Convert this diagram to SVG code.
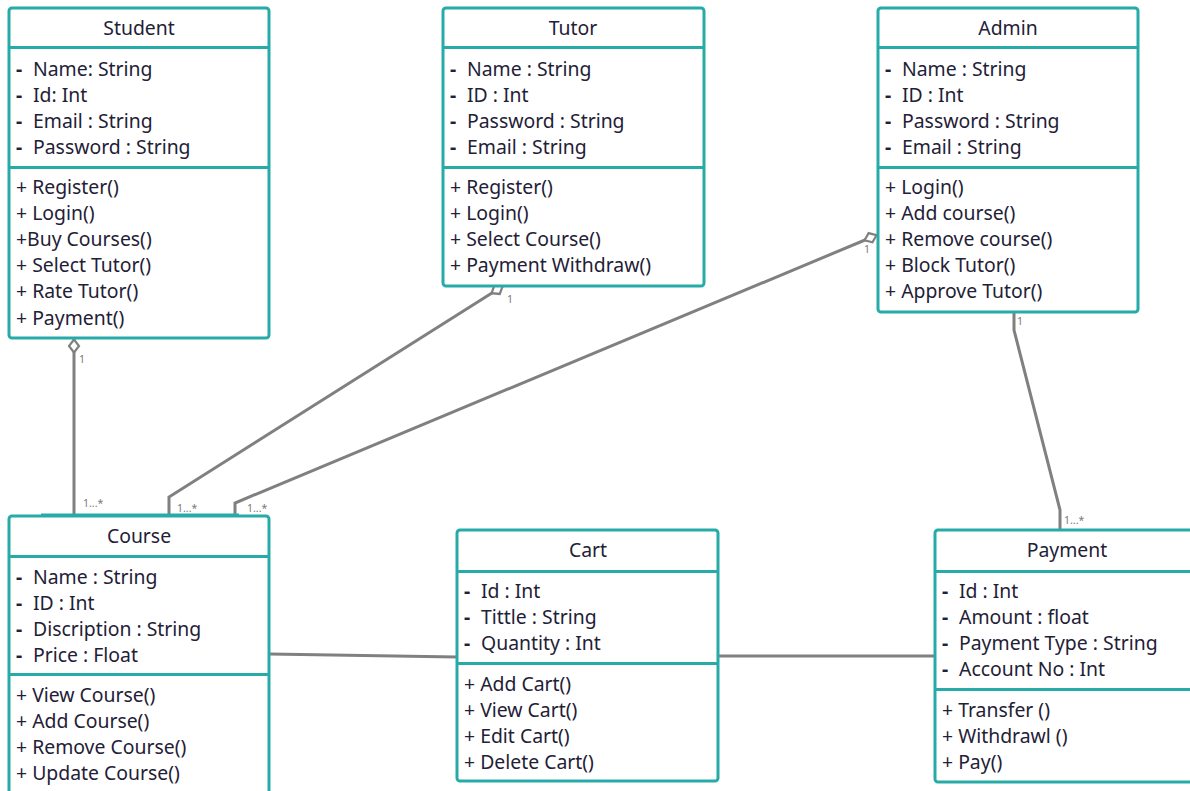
<svg xmlns="http://www.w3.org/2000/svg" width="1190" height="791" viewBox="0 0 1190 791">
<style>
.box{fill:#fff;stroke:#26aba8;stroke-width:3}
.div{stroke:#26aba8;stroke-width:3}
.t{font-family:"Noto Sans","Open Sans",sans-serif;font-size:19.4px;fill:#1f2137}
.d{font-weight:bold}
.ti{text-anchor:middle}
.c{fill:none;stroke:#808080;stroke-width:3}
.lb{font-family:"Noto Sans","DejaVu Sans",sans-serif;font-size:10.5px;fill:#7a7a7a}
</style>
<defs>
<marker id="dia" markerUnits="userSpaceOnUse" markerWidth="18" markerHeight="14" refX="15" refY="7" orient="auto" viewBox="0 0 18 14">
<path d="M1.5,7 L8,2 L14.5,7 L8,12 Z" fill="#fff" stroke="#808080" stroke-width="2.2"/>
</marker>
</defs>
<rect width="1190" height="791" fill="#fff"/>
<g id="connectors">
<path class="c" d="M74,516 L74,339" marker-end="url(#dia)"/>
<path class="c" d="M169,516 L169,497 L503,286" marker-end="url(#dia)"/>
<path class="c" d="M235,516 L235,503 L877,235" marker-end="url(#dia)"/>
<path class="c" d="M1014,312 L1014,330 L1060,510 L1060,530"/>
<path class="c" d="M269,654 L457,657"/>
<path class="c" d="M718,656 L935,656"/>
<text class="lb" x="79" y="363">1</text>
<text class="lb" x="83" y="507">1...*</text>
<text class="lb" x="177" y="512">1...*</text>
<text class="lb" x="247" y="512">1...*</text>
<text class="lb" x="507" y="303">1</text>
<text class="lb" x="864" y="253">1</text>
<text class="lb" x="1017" y="325">1</text>
<text class="lb" x="1064" y="524">1...*</text>
</g>
<g id="student">
<rect class="box" x="9" y="8" width="260" height="330" rx="3"/>
<line class="div" x1="9" y1="47.5" x2="269" y2="47.5"/>
<line class="div" x1="9" y1="167.5" x2="269" y2="167.5"/>
<text class="t ti" x="139" y="35">Student</text>
<text class="t" y="76"><tspan class="d" x="16">-</tspan><tspan x="33">Name: String</tspan></text>
<text class="t" y="102"><tspan class="d" x="16">-</tspan><tspan x="33">Id: Int</tspan></text>
<text class="t" y="128"><tspan class="d" x="16">-</tspan><tspan x="33">Email : String</tspan></text>
<text class="t" y="154"><tspan class="d" x="16">-</tspan><tspan x="33">Password : String</tspan></text>
<text class="t" x="16" y="194">+ Register()</text>
<text class="t" x="16" y="220">+ Login()</text>
<text class="t" x="16" y="246">+Buy Courses()</text>
<text class="t" x="16" y="272">+ Select Tutor()</text>
<text class="t" x="16" y="298">+ Rate Tutor()</text>
<text class="t" x="16" y="325">+ Payment()</text>
</g>
<g id="tutor">
<rect class="box" x="443" y="8" width="261" height="278" rx="3"/>
<line class="div" x1="443" y1="47.5" x2="704" y2="47.5"/>
<line class="div" x1="443" y1="167.5" x2="704" y2="167.5"/>
<text class="t ti" x="573" y="35">Tutor</text>
<text class="t" y="76"><tspan class="d" x="450">-</tspan><tspan x="467">Name : String</tspan></text>
<text class="t" y="102"><tspan class="d" x="450">-</tspan><tspan x="467">ID : Int</tspan></text>
<text class="t" y="128"><tspan class="d" x="450">-</tspan><tspan x="467">Password : String</tspan></text>
<text class="t" y="154"><tspan class="d" x="450">-</tspan><tspan x="467">Email : String</tspan></text>
<text class="t" x="450" y="194">+ Register()</text>
<text class="t" x="450" y="220">+ Login()</text>
<text class="t" x="450" y="246">+ Select Course()</text>
<text class="t" x="450" y="272">+ Payment Withdraw()</text>
</g>
<g id="admin">
<rect class="box" x="878" y="8" width="260" height="304" rx="3"/>
<line class="div" x1="878" y1="47.5" x2="1138" y2="47.5"/>
<line class="div" x1="878" y1="167.5" x2="1138" y2="167.5"/>
<text class="t ti" x="1008" y="35">Admin</text>
<text class="t" y="76"><tspan class="d" x="885">-</tspan><tspan x="902">Name : String</tspan></text>
<text class="t" y="102"><tspan class="d" x="885">-</tspan><tspan x="902">ID : Int</tspan></text>
<text class="t" y="128"><tspan class="d" x="885">-</tspan><tspan x="902">Password : String</tspan></text>
<text class="t" y="154"><tspan class="d" x="885">-</tspan><tspan x="902">Email : String</tspan></text>
<text class="t" x="885" y="194">+ Login()</text>
<text class="t" x="885" y="220">+ Add course()</text>
<text class="t" x="885" y="246">+ Remove course()</text>
<text class="t" x="885" y="272">+ Block Tutor()</text>
<text class="t" x="885" y="298">+ Approve Tutor()</text>
</g>
<g id="course">
<rect class="box" x="9" y="516" width="260" height="290" rx="3"/>
<line class="div" x1="41" y1="515" x2="239" y2="515"/>
<line class="div" x1="9" y1="556.5" x2="269" y2="556.5"/>
<line class="div" x1="9" y1="674.5" x2="269" y2="674.5"/>
<text class="t ti" x="139" y="543">Course</text>
<text class="t" y="584"><tspan class="d" x="16">-</tspan><tspan x="33">Name : String</tspan></text>
<text class="t" y="610"><tspan class="d" x="16">-</tspan><tspan x="33">ID : Int</tspan></text>
<text class="t" y="636"><tspan class="d" x="16">-</tspan><tspan x="33">Discription : String</tspan></text>
<text class="t" y="662"><tspan class="d" x="16">-</tspan><tspan x="33">Price : Float</tspan></text>
<text class="t" x="16" y="702">+ View Course()</text>
<text class="t" x="16" y="728">+ Add Course()</text>
<text class="t" x="16" y="754">+ Remove Course()</text>
<text class="t" x="16" y="780">+ Update Course()</text>
</g>
<g id="cart">
<rect class="box" x="457" y="530" width="261" height="251" rx="3"/>
<line class="div" x1="457" y1="571.5" x2="718" y2="571.5"/>
<line class="div" x1="457" y1="663.5" x2="718" y2="663.5"/>
<text class="t ti" x="588" y="557">Cart</text>
<text class="t" y="598"><tspan class="d" x="464">-</tspan><tspan x="481">Id : Int</tspan></text>
<text class="t" y="624"><tspan class="d" x="464">-</tspan><tspan x="481">Tittle : String</tspan></text>
<text class="t" y="650"><tspan class="d" x="464">-</tspan><tspan x="481">Quantity : Int</tspan></text>
<text class="t" x="464" y="691">+ Add Cart()</text>
<text class="t" x="464" y="717">+ View Cart()</text>
<text class="t" x="464" y="743">+ Edit Cart()</text>
<text class="t" x="464" y="769">+ Delete Cart()</text>
</g>
<g id="payment">
<rect class="box" x="935" y="530" width="264" height="252" rx="3"/>
<line class="div" x1="935" y1="571.5" x2="1199" y2="571.5"/>
<line class="div" x1="935" y1="689.5" x2="1199" y2="689.5"/>
<text class="t ti" x="1067" y="557">Payment</text>
<text class="t" y="598"><tspan class="d" x="942">-</tspan><tspan x="959">Id : Int</tspan></text>
<text class="t" y="624"><tspan class="d" x="942">-</tspan><tspan x="959">Amount : float</tspan></text>
<text class="t" y="650"><tspan class="d" x="942">-</tspan><tspan x="959">Payment Type : String</tspan></text>
<text class="t" y="676"><tspan class="d" x="942">-</tspan><tspan x="959">Account No : Int</tspan></text>
<text class="t" x="942" y="717">+ Transfer ()</text>
<text class="t" x="942" y="743">+ Withdrawl ()</text>
<text class="t" x="942" y="769">+ Pay()</text>
</g>
</svg>
